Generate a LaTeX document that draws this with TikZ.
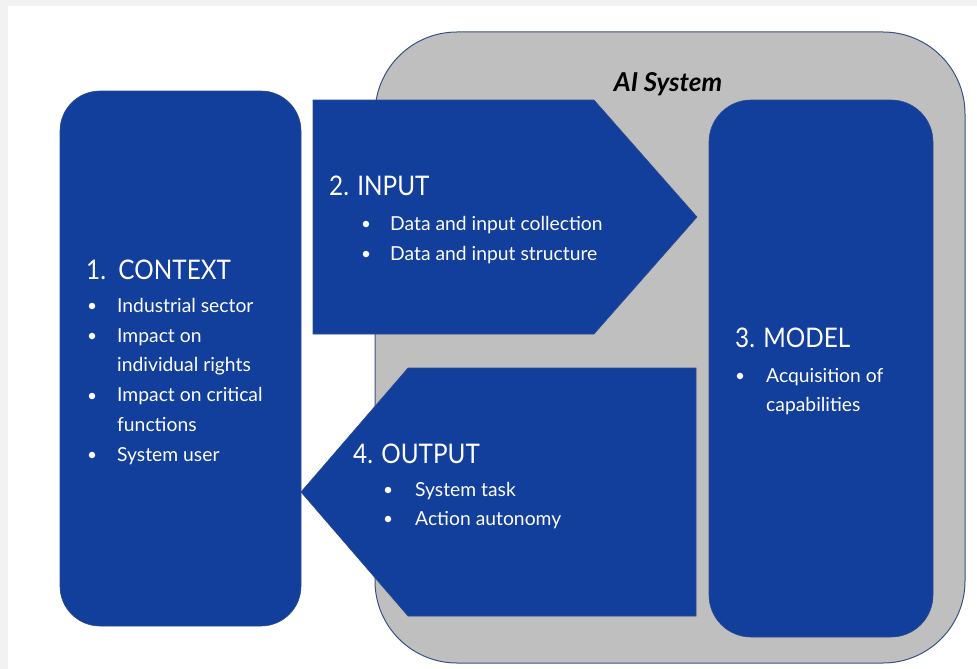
\documentclass[tikz,border=0pt]{standalone}
\usepackage{fontspec}
\setmainfont{Lato}
\definecolor{boxblue}{HTML}{123E9C}
\definecolor{edgeblue}{HTML}{2F4C8C}
\definecolor{sysgrey}{HTML}{BFBFBF}
\definecolor{sysedge}{HTML}{3B5284}
\definecolor{pagegrey}{HTML}{F2F2F2}
\newcommand{\ttltext}[1]{\scalebox{0.9}[1]{#1}}
\begin{document}
\begin{tikzpicture}[x=1pt,y=-1pt,
  bluebox/.style={fill=boxblue,draw=edgeblue,line width=0.6pt},
  ttl/.style={anchor=base west,inner sep=0pt,text=white,font=\fontsize{27}{32}\selectfont},
  itm/.style={anchor=base west,inner sep=0pt,text=white,font=\fontsize{19.3}{23}\selectfont},
  bul/.style={circle,fill=white,inner sep=0pt,minimum size=6.5pt}]
\useasboundingbox (0,0) rectangle (977,669);
\fill[white] (0,0) rectangle (977,669);
\fill[pagegrey] (0,0) rectangle (977,6);
\fill[pagegrey] (0,0) rectangle (8,669);
% AI system container
\draw[fill=sysgrey,draw=sysedge,line width=1pt,rounded corners=82pt] (375,32) rectangle (965,663);
\node[anchor=base,inner sep=0pt,font=\fontsize{26}{30}\selectfont\bfseries\itshape] (sys) at (668,92) {AI System};
% boxes
\draw[bluebox,rounded corners=40pt] (60,91) rectangle (301,626);
\draw[bluebox,rounded corners=42pt] (709,100) rectangle (933,637);
\draw[bluebox] (313,100) -- (594,100) -- (697,217) -- (594,334) -- (313,334) -- cycle;
\draw[bluebox] (696,368) -- (408,368) -- (301,492) -- (408,616) -- (696,616) -- cycle;
% context
\node[ttl] (t1) at (86,279) {\ttltext{1.\ \ CONTEXT}};
\node[bul] (b11) at (92,306) {};
\node[itm] (c1) at (117,312) {Industrial sector};
\node[bul] (b12) at (92,336) {};
\node[itm] (c2) at (117,342) {Impact on};
\node[itm] (c3) at (117,371) {individual rights};
\node[bul] (b13) at (92,396) {};
\node[itm] (c4) at (117,401) {Impact on critical};
\node[itm] (c5) at (117,431) {functions};
\node[bul] (b14) at (92,455) {};
\node[itm] (c6) at (117,461) {System user};
% input
\node[ttl] (t2) at (329,195) {\ttltext{2. INPUT}};
\node[bul] (b21) at (366,224) {};
\node[itm] (i1) at (390,230) {Data and input collection};
\node[bul] (b22) at (366,254) {};
\node[itm] (i2) at (390,260) {Data and input structure};
% model
\node[ttl] (t3) at (735,347) {\ttltext{3. MODEL}};
\node[bul] (b31) at (740,376) {};
\node[itm] (m1) at (766,382) {Acquisition of};
\node[itm] (m2) at (766,411) {capabilities};
% output
\node[ttl] (t4) at (353,463) {\ttltext{4. OUTPUT}};
\node[bul] (b41) at (388,490) {};
\node[itm] (o1) at (415,496) {System task};
\node[bul] (b42) at (388,519) {};
\node[itm] (o2) at (415,525) {Action autonomy};
\end{tikzpicture}
\end{document}
